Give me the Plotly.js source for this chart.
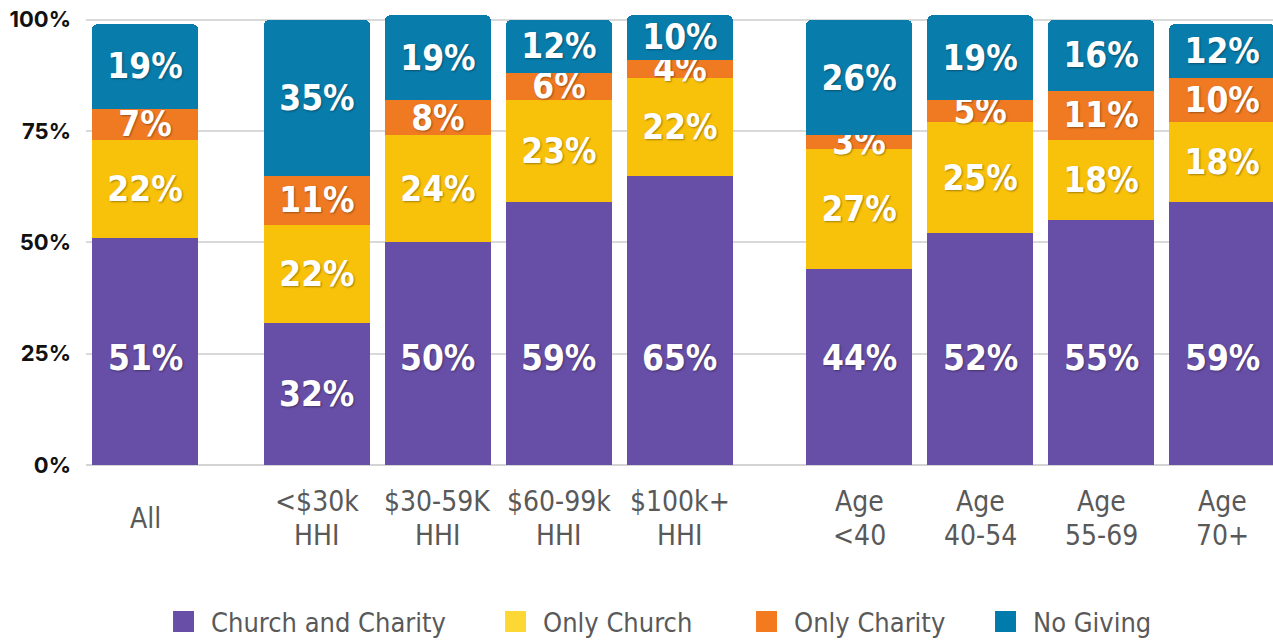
<!DOCTYPE html>
<html>
<head>
<meta charset="utf-8">
<script src="https://cdn.plot.ly/plotly-3.0.1.min.js"></script>
<style>html,body{margin:0;padding:0;background:#fff;}#chart{width:1273px;height:642px;}</style>
</head>
<body>
<div id="chart"></div>
<script>
// ---- data ----
var categories = ["All", "<$30k\nHHI", "$30-59K\nHHI", "$60-99k\nHHI", "$100k+\nHHI", "Age\n<40", "Age\n40-54", "Age\n55-69", "Age\n70+"];
var groupOf = [0, 1, 1, 1, 1, 2, 2, 2, 2];
var seriesNames = ["Church and Charity", "Only Church", "Only Charity", "No Giving"];
var churchAndCharity = [51, 32, 50, 59, 65, 44, 52, 55, 59];
var onlyChurch       = [22, 22, 24, 23, 22, 27, 25, 18, 18];
var onlyCharity      = [7, 11, 8, 6, 4, 3, 5, 11, 10];
var noGiving         = [19, 35, 19, 12, 10, 26, 19, 16, 12];
var yTicks = [0, 25, 50, 75, 100];

// ---- styling ----
var barColors = ["#674EA6", "#F9C20A", "#F07A22", "#087CAB"];
var legendColors = ["#684EA6", "#FDD835", "#F47A20", "#007BAC"];
var legendItemWidths = [272, 191, 179, 130];
var groupExtra = [0, 0.42, 0.9];   // extra spacing before each group
var xpos = categories.map(function (c, i) { return i + groupExtra[groupOf[i]]; });
var narrow = "'Liberation Sans Narrow', 'DejaVu Sans Condensed', 'Roboto', sans-serif";
var labelFont = { family: narrow, size: 35, color: "#ffffff", weight: 700, shadow: "1px 1px 2px rgba(0,0,0,0.35)" };

var values = [churchAndCharity, onlyChurch, onlyCharity, noGiving];
var traces = values.map(function (v, k) {
  var t = {
    type: "bar",
    name: seriesNames[k],
    x: xpos,
    y: v,
    width: 0.88,
    marker: { color: barColors[k] },
    showlegend: false,
    hoverinfo: "skip"
  };
  if (k > 0) {
    t.text = v.map(function (d) { return d + "%"; });
    t.textposition = "inside";
    t.insidetextanchor = "middle";
    t.textangle = 0;
    t.textfont = labelFont;
  } else {
    t.textposition = "none";
  }
  return t;
});
// legend entries
seriesNames.forEach(function (n, k) {
  traces.push({
    type: "scatter", mode: "markers", name: n,
    x: [null], y: [null],
    legendwidth: legendItemWidths[k],
    marker: { symbol: "square", size: 16, color: legendColors[k], line: { color: legendColors[k], width: 5 } },
    hoverinfo: "skip"
  });
});

function esc(s) { return s.replace(/&/g, "&amp;").replace(/</g, "&lt;").replace(/>/g, "&gt;"); }
var annotations = [];
// base-segment labels sit at a common height when the segment is tall enough
churchAndCharity.forEach(function (v, i) {
  annotations.push({
    x: xpos[i], xref: "x", y: v >= 40 ? 24 : v / 2, yref: "y",
    yanchor: "middle", xanchor: "center",
    text: v + "%", showarrow: false, font: labelFont
  });
});
categories.forEach(function (c, i) {
  var lines = c.split("\n");
  var shifts = lines.length === 1 ? [-53] : [-36, -70];
  lines.forEach(function (ln, j) {
    annotations.push({
      x: xpos[i], xref: "x", y: 0, yref: "paper",
      yanchor: "middle", xanchor: "center", yshift: shifts[j],
      text: esc(ln), showarrow: false,
      font: { family: narrow, size: 28, color: "#595959" }
    });
  });
});

var layout = {
  width: 1273, height: 642,
  margin: { l: 86, r: 0, t: 13, b: 177, autoexpand: false },
  paper_bgcolor: "#ffffff", plot_bgcolor: "#ffffff",
  barmode: "stack",
  barcornerradius: 6,
  uniformtext: { mode: "show", minsize: 35 },
  showlegend: true,
  legend: {
    orientation: "h", x: 0.059, xanchor: "left", y: -0.347, yanchor: "middle",
    traceorder: "normal",
    font: { family: narrow, size: 27, color: "#595959" },
    itemwidth: 45
  },
  xaxis: {
    range: [-0.488, 9.32],
    showticklabels: false, showgrid: false, zeroline: false, showline: false, ticks: ""
  },
  yaxis: {
    range: [0, 101.5],
    tickvals: yTicks,
    ticktext: yTicks.map(function (t) { return t + "%"; }),
    tickfont: { family: "Inter, 'Noto Sans', sans-serif", size: 22, color: "#111111", weight: 700 },
    ticklabelstandoff: 14,
    showgrid: true, gridcolor: "#d9d9d9", gridwidth: 2,
    zeroline: true, zerolinecolor: "#d4d4d4", zerolinewidth: 2,
    showline: false, ticks: ""
  },
  annotations: annotations,
  hovermode: false
};

Plotly.newPlot("chart", traces, layout, { displayModeBar: false, staticPlot: true });
</script>
</body>
</html>
